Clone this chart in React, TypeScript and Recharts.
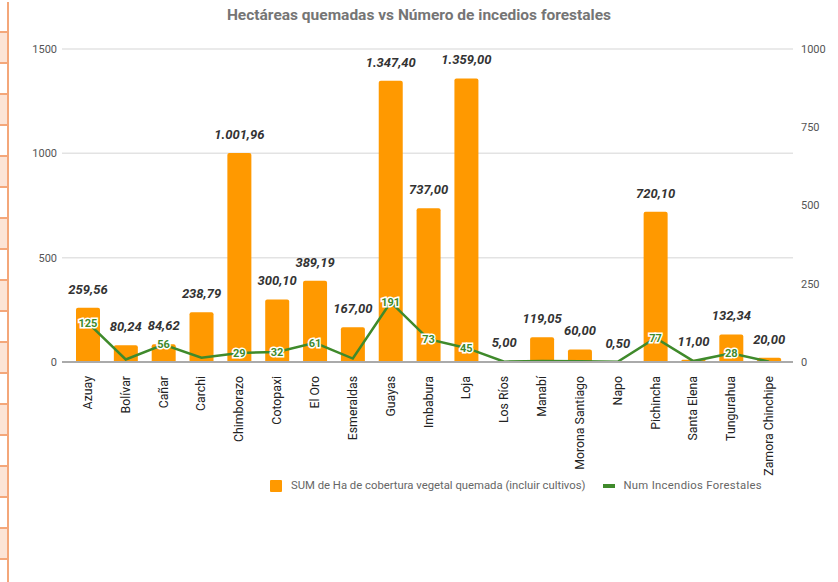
import React from 'react';
import { ComposedChart, Bar, Line, XAxis, YAxis, CartesianGrid, LabelList } from 'recharts';

// datos por provincia
const provincias = [
  'Azuay', 'Bolívar', 'Cañar', 'Carchi', 'Chimborazo', 'Cotopaxi', 'El Oro', 'Esmeraldas', 'Guayas',
  'Imbabura', 'Loja', 'Los Ríos', 'Manabí', 'Morona Santiago', 'Napo', 'Pichincha', 'Santa Elena',
  'Tungurahua', 'Zamora Chinchipe',
];
const hectareas = [
  259.56, 80.24, 84.62, 238.79, 1001.96, 300.1, 389.19, 167.0, 1347.4,
  737.0, 1359.0, 5.0, 119.05, 60.0, 0.5, 720.1, 11.0, 132.34, 20.0,
];
const incendios = [125, 8, 56, 14, 29, 32, 61, 11, 191, 73, 45, 1, 3, 2, 1, 77, 3, 28, 1];

const ticksHa = [0, 500, 1000, 1500];
const ticksNum = [0, 250, 500, 750, 1000];

const ORANGE = '#ff9900';
const GREEN = '#3f8a2b';
const FONT = 'Roboto, "Noto Sans", sans-serif';

const data = provincias.map((name, i) => ({
  name,
  ha: hectareas[i],
  num: incendios[i],
}));

// formato español: 1.347,40
const fmt = (v: number) => {
  const [ent, dec] = v.toFixed(2).split('.');
  return ent.replace(/\B(?=(\d{3})+(?!\d))/g, '.') + ',' + dec;
};

const BarValueLabel = (props: any) => {
  const { x, y, width, value } = props;
  return (
    <text
      x={x + width / 2}
      y={y - 14}
      textAnchor="middle"
      fontFamily={FONT}
      fontSize={13}
      fontWeight={700}
      fontStyle="italic"
      fill="#333"
    >
      {fmt(value)}
    </text>
  );
};

const LineValueLabel = (props: any) => {
  const { x, y, value } = props;
  if (value < 20) return null;
  return (
    <text
      x={x}
      y={y}
      dy={4}
      textAnchor="middle"
      fontFamily={FONT}
      fontSize={11}
      fontWeight={700}
      fill={GREEN}
      stroke="#fff"
      strokeWidth={3}
      paintOrder="stroke"
    >
      {value}
    </text>
  );
};

const ProvinciaTick = (props: any) => {
  const { x, y, payload } = props;
  return (
    <text
      transform={`translate(${x}, ${y + 6}) rotate(-90)`}
      textAnchor="end"
      dominantBaseline="central"
      fontFamily={FONT}
      fontSize={12.3}
      fill="#222"
    >
      {payload.value}
    </text>
  );
};

export default function App() {
  return (
    <div
      style={{
        position: 'absolute',
        left: 0,
        top: 0,
        width: 838,
        height: 582,
        overflow: 'hidden',
        background: '#fff',
        fontFamily: FONT,
      }}
    >
      {/* borde de la hoja a la izquierda */}
      <div
        style={{
          position: 'absolute',
          left: 0,
          top: 2,
          width: 7,
          height: 580,
          borderRight: '2px solid #f4a77a',
          background:
            'repeating-linear-gradient(to bottom, #fff 0px, #fff 29px, #f4a77a 29px, #f4a77a 31px, #fce4d6 31px, #fce4d6 60px, #f4a77a 60px, #f4a77a 62px)',
        }}
      />

      <div
        style={{
          position: 'absolute',
          top: 6,
          left: 0,
          width: 838,
          textAlign: 'center',
          fontSize: 15.5,
          fontWeight: 700,
          color: '#757575',
        }}
      >
        Hectáreas quemadas vs Número de incedios forestales
      </div>

      <div style={{ position: 'absolute', left: 0, top: 0 }}>
        <ComposedChart width={838} height={582} data={data} margin={{ top: 49, right: 0, bottom: 110, left: 0 }}>
          <CartesianGrid yAxisId="left" vertical={false} stroke="#e3e3e3" strokeWidth={1.5} />
          <XAxis
            dataKey="name"
            interval={0}
            height={110}
            padding={{ left: 7, right: 5 }}
            tickLine={false}
            axisLine={{ stroke: '#aaa', strokeWidth: 2 }}
            tick={<ProvinciaTick />}
          />
          <YAxis
            yAxisId="left"
            orientation="left"
            width={62}
            domain={[0, 1500]}
            ticks={ticksHa}
            tickLine={false}
            axisLine={false}
            tickSize={3}
            tick={{ fontSize: 11, fill: '#555', fontFamily: FONT }}
          />
          <YAxis
            yAxisId="right"
            orientation="right"
            width={45}
            domain={[0, 1000]}
            ticks={ticksNum}
            tickLine={false}
            axisLine={false}
            tick={{ fontSize: 11, fill: '#555', fontFamily: FONT, textAnchor: 'start' }}
          />
          <Bar yAxisId="left" dataKey="ha" fill={ORANGE} barSize={24} radius={[2, 2, 0, 0]} isAnimationActive={false}>
            <LabelList dataKey="ha" content={<BarValueLabel />} />
          </Bar>
          <Line
            yAxisId="right"
            dataKey="num"
            type="linear"
            stroke={GREEN}
            strokeWidth={2.5}
            dot={false}
            isAnimationActive={false}
          >
            <LabelList dataKey="num" content={<LineValueLabel />} />
          </Line>
        </ComposedChart>
      </div>

      {/* leyenda */}
      <div
        style={{
          position: 'absolute',
          top: 479,
          left: 270,
          display: 'flex',
          alignItems: 'center',
          fontSize: 11.3,
          color: '#666',
          whiteSpace: 'nowrap',
        }}
      >
        <span style={{ display: 'inline-block', width: 12, height: 12, background: ORANGE, borderRadius: 1, marginRight: 9 }} />
        <span>SUM de Ha de cobertura vegetal quemada (incluir cultivos)</span>
        <span style={{ display: 'inline-block', width: 12, height: 4, background: GREEN, marginLeft: 18, marginRight: 8 }} />
        <span style={{ letterSpacing: 0.3 }}>Num Incendios Forestales</span>
      </div>
    </div>
  );
}
